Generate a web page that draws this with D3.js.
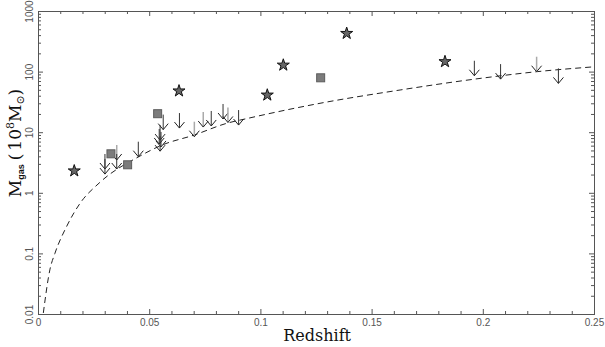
<!DOCTYPE html>
<html>
<head>
<meta charset="utf-8">
<script src="https://cdn.jsdelivr.net/npm/d3@7"></script>
<style>
  body { margin: 0; background: #fff; }
  .tick-label { font-family: "Liberation Sans", Arial, sans-serif; font-size: 10px; fill: #555; }
</style>
</head>
<body>
<div id="chart"></div>
<script>
// Plot frame
const MARGIN = {top: 11, right: 11, bottom: 33, left: 38};
const OUTER_WIDTH = 605;
const OUTER_HEIGHT = 347;
const AXIS_COLOR = '#555';

// Tick values and labels
const X_TICKS = [0, 0.05, 0.1, 0.15, 0.2, 0.25];
const X_TICK_LABELS = ['0', '0.05', '0.1', '0.15', '0.2', '0.25'];
const Y_TICKS = [0.01, 0.1, 1, 10, 100, 1000];
const Y_TICK_LABELS = ['0.01', '0.1', '1', '10', '100', '1000'];

// Detections (stars)
const starZ = [0.0163, 0.0634, 0.1031, 0.1103, 0.1388, 0.183];
const starMass = [2.3, 48, 41, 128, 427, 146];

// Detections (grey squares)
const squareZ = [0.0328, 0.0403, 0.0538, 0.1271];
const squareMass = [4.4, 2.9, 20.2, 79];

// Upper limits (arrows)
const limitZ = [0.0301, 0.0301, 0.0354, 0.0354, 0.0451, 0.0563, 0.0549, 0.0545, 0.0553, 0.0549,
                0.0636, 0.0703, 0.0743, 0.0779, 0.0832, 0.0854, 0.0902, 0.1962, 0.208, 0.2242, 0.234];
const limitMass = [4.37, 3.6, 6.15, 4.37, 6.97, 19.5, 13.1, 11.3, 10.1, 8.6,
                   20.7, 14.9, 21.5, 22.4, 29.2, 25.6, 23.2, 151, 133, 176, 113];
const limitGrey = [false, false, true, false, false, false, false, false, false, false,
                   false, true, true, false, false, true, false, false, false, true, false];

// Dashed detection-limit curve
const curveZ = [0.0024, 0.0054, 0.0076, 0.0129, 0.0189, 0.0275, 0.0459, 0.0556, 0.0703, 0.0848,
                0.0946, 0.1268, 0.1628, 0.1957, 0.2242, 0.25];
const curveMass = [0.0104, 0.055, 0.1, 0.28, 0.67, 1.45, 4.05, 6.1, 9.0, 14.0,
                   17.0, 30, 49.7, 74.6, 99.6, 120];

const width = OUTER_WIDTH - MARGIN.left - MARGIN.right;
const height = OUTER_HEIGHT - MARGIN.top - MARGIN.bottom;

const svg = d3.select('#chart').append('svg')
  .attr('width', OUTER_WIDTH)
  .attr('height', OUTER_HEIGHT);

const g = svg.append('g')
  .attr('transform', `translate(${MARGIN.left}, ${MARGIN.top})`);

const xScale = d3.scaleLinear().domain([0, 0.25]).range([0, width]);
const yScale = d3.scaleLog().domain([0.01, 1000]).range([height, 0]);

// Minor tick values
const xMinor = d3.range(0, 26).map(i => i / 100).filter(v => Math.round(v * 100) % 5 !== 0);
const yMinor = [];
for (let e = -2; e < 3; e++) {
  for (let m = 2; m < 10; m++) yMinor.push(m * Math.pow(10, e));
}

function styleAxis(sel) {
  sel.select('.domain').attr('stroke', AXIS_COLOR);
  sel.selectAll('.tick line').attr('stroke', AXIS_COLOR);
}

// Bottom axis (labelled)
g.append('g')
  .attr('transform', `translate(0, ${height})`)
  .call(d3.axisBottom(xScale).tickValues(X_TICKS).tickSize(-5).tickPadding(5)
    .tickFormat((d, i) => X_TICK_LABELS[i]))
  .call(styleAxis)
  .call(s => s.selectAll('text').attr('class', 'tick-label').attr('fill', null));

g.append('g')
  .attr('transform', `translate(0, ${height})`)
  .call(d3.axisBottom(xScale).tickValues(xMinor).tickSize(-3).tickFormat(''))
  .call(styleAxis);

// Top axis
g.append('g')
  .call(d3.axisTop(xScale).tickValues(X_TICKS).tickSize(-5).tickFormat(''))
  .call(styleAxis);
g.append('g')
  .call(d3.axisTop(xScale).tickValues(xMinor).tickSize(-3).tickFormat(''))
  .call(styleAxis);

// Left axis (labelled, rotated labels)
g.append('g')
  .call(d3.axisLeft(yScale).tickValues(Y_TICKS).tickSize(-5)
    .tickFormat((d, i) => Y_TICK_LABELS[i]))
  .call(styleAxis)
  .call(s => s.selectAll('text')
    .attr('class', 'tick-label').attr('fill', null)
    .attr('x', null).attr('dy', null)
    .attr('text-anchor', 'middle')
    .attr('transform', 'translate(-5, 0) rotate(-90)'));

g.append('g')
  .call(d3.axisLeft(yScale).tickValues(yMinor).tickSize(-3).tickFormat(''))
  .call(styleAxis);

// Right axis
g.append('g')
  .attr('transform', `translate(${width}, 0)`)
  .call(d3.axisRight(yScale).tickValues(Y_TICKS).tickSize(-5).tickFormat(''))
  .call(styleAxis);
g.append('g')
  .attr('transform', `translate(${width}, 0)`)
  .call(d3.axisRight(yScale).tickValues(yMinor).tickSize(-3).tickFormat(''))
  .call(styleAxis);

// Dashed curve
const line = d3.line()
  .x(d => xScale(d[0]))
  .y(d => yScale(d[1]))
  .curve(d3.curveMonotoneX);

g.append('path')
  .datum(curveZ.map((z, i) => [z, curveMass[i]]))
  .attr('d', line)
  .attr('fill', 'none')
  .attr('stroke', '#222')
  .attr('stroke-width', 1)
  .attr('stroke-dasharray', '6,4');

// Upper limit arrows
const ARROW_LEN = 15;
const limits = g.append('g').selectAll('g')
  .data(limitZ.map((z, i) => ({z: z, m: limitMass[i], grey: limitGrey[i]})))
  .enter().append('g')
  .attr('transform', d => `translate(${xScale(d.z)}, ${yScale(d.m)})`);

limits.append('line')
  .attr('x1', 0).attr('y1', 0)
  .attr('x2', 0).attr('y2', ARROW_LEN)
  .attr('stroke', d => d.grey ? '#aaa' : '#333')
  .attr('stroke-width', d => d.grey ? 1.5 : 1);

limits.append('path')
  .attr('d', `M-5,${ARROW_LEN - 6}L0,${ARROW_LEN}L5,${ARROW_LEN - 6}`)
  .attr('fill', 'none')
  .attr('stroke', '#222')
  .attr('stroke-width', 1);

// Grey squares
g.append('g').selectAll('rect')
  .data(squareZ.map((z, i) => ({z: z, m: squareMass[i]})))
  .enter().append('rect')
  .attr('x', d => xScale(d.z) - 4)
  .attr('y', d => yScale(d.m) - 4)
  .attr('width', 8)
  .attr('height', 8)
  .attr('fill', '#7c7c7c')
  .attr('stroke', '#5c5c5c')
  .attr('stroke-width', 1);

// Stars
g.append('g').selectAll('path')
  .data(starZ.map((z, i) => ({z: z, m: starMass[i]})))
  .enter().append('path')
  .attr('d', d3.symbol().type(d3.symbolStar).size(45))
  .attr('transform', d => `translate(${xScale(d.z)}, ${yScale(d.m)})`)
  .attr('fill', '#666')
  .attr('stroke', '#111')
  .attr('stroke-width', 1);

// Axis titles
svg.append('text')
  .attr('x', MARGIN.left + xScale(0.1255))
  .attr('y', 341)
  .attr('text-anchor', 'middle')
  .attr('font-family', '"DejaVu Serif", serif')
  .attr('font-size', 16)
  .attr('fill', '#111')
  .text('Redshift');

const yTitle = svg.append('text')
  .attr('transform', 'translate(21, 143) rotate(-90)')
  .attr('text-anchor', 'middle')
  .attr('font-family', '"DejaVu Serif", serif')
  .attr('font-size', 17)
  .attr('fill', '#111');

yTitle.append('tspan').text('M');
yTitle.append('tspan').attr('font-family', '"Liberation Sans", sans-serif')
  .attr('font-weight', 'bold').attr('font-size', 9).attr('dy', 3).text('gas');
yTitle.append('tspan').attr('dy', -3).attr('dx', 4).text('(');
yTitle.append('tspan').attr('dx', 3).text('10');
yTitle.append('tspan').attr('font-size', 11).attr('dy', -7).text('8');
yTitle.append('tspan').attr('dy', 7).text('M');
yTitle.append('tspan').attr('font-size', 11).attr('dy', 3).text('⊙');
yTitle.append('tspan').attr('dy', -3).text(')');
</script>
</body>
</html>
